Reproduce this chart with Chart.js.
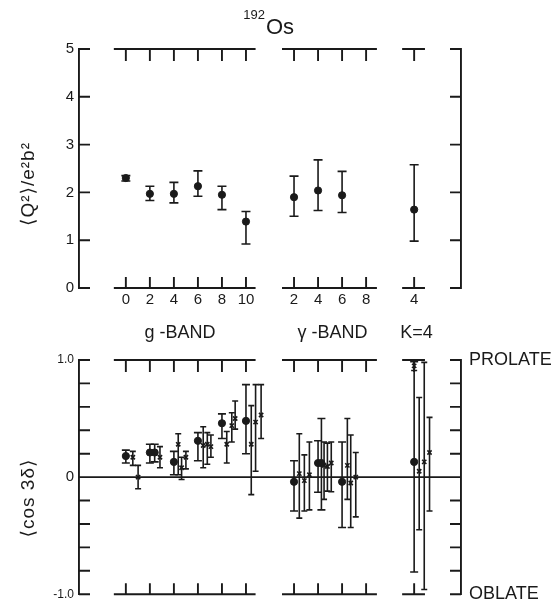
<!DOCTYPE html>
<html>
<head>
<meta charset="utf-8">
<script src="https://cdn.jsdelivr.net/npm/chart.js@4.4.1/dist/chart.umd.min.js"></script>
<style>
  html, body { margin: 0; padding: 0; background: #fff; }
  #wrap { position: relative; width: 557px; height: 613px; }
  #topChart { position: absolute; left: 0; top: 0; }
  #botChart { position: absolute; left: 0; top: 320px; }
</style>
</head>
<body>
<div id="wrap">
  <canvas id="topChart" width="557" height="320"></canvas>
  <canvas id="botChart" width="557" height="293"></canvas>
</div>
<script>
// slots on the x axis: g-band spins 0..10 -> 0..5, gamma-band 2..8 -> 7..10, K=4 band -> 12
const tickSlots = [0, 1, 2, 3, 4, 5, 7, 8, 9, 10, 12];
const tickLabels = ['0', '2', '4', '6', '8', '10', '2', '4', '6', '8', '4'];
const bandLabels = ['g -BAND', 'γ -BAND', 'K=4'];
const bandLabelSlots = [2.25, 8.6, 12.1];

// <Q^2> / e^2 b^2
const q2Slots = [0, 1, 2, 3, 4, 5, 7, 8, 9, 12];
const q2Values = [2.30, 1.97, 1.97, 2.13, 1.95, 1.39, 1.90, 2.04, 1.94, 1.64];
const q2Upper = [2.35, 2.13, 2.21, 2.45, 2.13, 1.60, 2.34, 2.68, 2.44, 2.58];
const q2Lower = [2.24, 1.83, 1.78, 1.92, 1.64, 0.92, 1.50, 1.62, 1.58, 0.98];

// <cos 3delta>, filled dots
const cosDotSlots = [0, 1, 1.2, 2, 3, 4, 5, 7, 8, 8.14, 9, 12];
const cosDotValues = [0.18, 0.21, 0.21, 0.13, 0.31, 0.46, 0.48, -0.04, 0.12, 0.12, -0.04, 0.13];
const cosDotUpper = [0.23, 0.28, 0.28, 0.22, 0.38, 0.54, 0.79, 0.14, 0.31, 0.50, 0.30, 0.985];
const cosDotLower = [0.12, 0.12, 0.13, 0.02, 0.14, 0.33, 0.20, -0.29, -0.13, -0.28, -0.43, -0.81];

// <cos 3delta>, small crosses
const cosCrossSlots = [0.29, 0.51, 1.42, 2.18, 2.32, 2.5, 3.22, 3.39, 3.54, 4.2, 4.41, 4.55,
  5.22, 5.4, 5.63, 7.22, 7.43, 7.64, 8.25, 8.39, 8.55, 9.22, 9.36, 9.57, 12.0, 12.21, 12.42, 12.64];
const cosCrossValues = [0.17, 0.0, 0.17, 0.28, 0.08, 0.17, 0.27, 0.28, 0.26, 0.28, 0.44, 0.50,
  0.28, 0.47, 0.53, 0.03, -0.03, 0.02, 0.10, 0.09, 0.12, 0.10, -0.05, 0.0, 0.95, 0.05, 0.13, 0.21];
const cosCrossUpper = [0.22, 0.10, 0.26, 0.37, 0.17, 0.22, 0.43, 0.38, 0.36, 0.39, 0.55, 0.65,
  0.61, 0.79, 0.79, 0.37, 0.19, 0.30, 0.30, 0.29, 0.30, 0.50, 0.36, 0.21, 0.99, 0.68, 0.98, 0.51];
const cosCrossLower = [0.10, -0.10, 0.08, 0.02, -0.02, 0.07, 0.08, 0.11, 0.17, 0.12, 0.30, 0.41,
  -0.15, 0.05, 0.33, -0.35, -0.29, -0.28, -0.19, -0.12, -0.125, -0.19, -0.43, -0.34, 0.91, -0.45, -0.96, -0.29];

const cosLabelValues = [-1, 0, 1];
const cosLabelText = ['-1.0', '0', '1.0'];
const sideValues = [-1, 1];
const sideText = ['OBLATE', 'PROLATE'];

const ink = '#1a1a1a';
const FONT = "'Liberation Sans', 'DejaVu Sans', Arial, sans-serif";
Chart.defaults.font.family = FONT;
Chart.defaults.color = ink;

const segments = [[-0.5, 5.4], [6.5, 10.45], [11.5, 12.45]];

function toPoints(xs, ys) {
  return xs.map((x, i) => ({ x: x, y: ys[i] }));
}

const errorBars = {
  id: 'errorBars',
  beforeDatasetsDraw(chart) {
    const { ctx, scales: { x, y } } = chart;
    ctx.save();
    ctx.strokeStyle = ink;
    ctx.lineWidth = 1.6;
    chart.data.datasets.forEach(ds => {
      if (!ds.upper) return;
      ds.data.forEach((p, i) => {
        const px = x.getPixelForValue(p.x);
        const top = y.getPixelForValue(ds.upper[i]);
        const bot = y.getPixelForValue(ds.lower[i]);
        const w = ds.capHalf;
        ctx.beginPath();
        ctx.moveTo(px, top); ctx.lineTo(px, bot);
        ctx.moveTo(px - w, top); ctx.lineTo(px + w, top);
        ctx.moveTo(px - w, bot); ctx.lineTo(px + w, bot);
        ctx.stroke();
      });
    });
    ctx.restore();
  }
};

// broken top/bottom frame, inward ticks, zero line
const frame = {
  id: 'frame',
  beforeDatasetsDraw(chart, args, opts) {
    const { ctx, chartArea: a, scales: { x, y } } = chart;
    ctx.save();
    ctx.strokeStyle = ink;
    ctx.lineWidth = 1.9;
    ctx.beginPath();
    segments.forEach(s => {
      const x0 = x.getPixelForValue(s[0]), x1 = x.getPixelForValue(s[1]);
      ctx.moveTo(x0, a.top); ctx.lineTo(x1, a.top);
      ctx.moveTo(x0, a.bottom); ctx.lineTo(x1, a.bottom);
    });
    tickSlots.forEach(v => {
      const px = x.getPixelForValue(v);
      ctx.moveTo(px, a.top); ctx.lineTo(px, a.top + 12);
      ctx.moveTo(px, a.bottom); ctx.lineTo(px, a.bottom - 11);
    });
    y.ticks.forEach(t => {
      const py = y.getPixelForValue(t.value);
      ctx.moveTo(a.left, py); ctx.lineTo(a.left + 11, py);
      ctx.moveTo(a.right, py); ctx.lineTo(a.right - 11, py);
    });
    if (opts.zeroLine) {
      const py = y.getPixelForValue(0);
      ctx.moveTo(a.left, py); ctx.lineTo(a.right, py);
    }
    ctx.stroke();
    ctx.restore();
  }
};

const texts = {
  id: 'texts',
  afterDraw(chart, args, opts) {
    const { ctx, scales: { x } } = chart;
    ctx.save();
    ctx.fillStyle = ink;
    if (opts.title) {
      ctx.textBaseline = 'alphabetic';
      ctx.font = '13px ' + FONT;
      ctx.textAlign = 'right';
      ctx.fillText('192', 265, 19);
      ctx.font = '22px ' + FONT;
      ctx.textAlign = 'left';
      ctx.fillText('Os', 266, 34);
    }
    if (opts.bands) {
      ctx.font = '18px ' + FONT;
      ctx.textAlign = 'center';
      ctx.textBaseline = 'middle';
      bandLabels.forEach((b, i) => ctx.fillText(b, x.getPixelForValue(bandLabelSlots[i]), 13));
    }
    if (opts.yTitle) {
      ctx.translate(opts.yTitle.x, opts.yTitle.y);
      ctx.rotate(-Math.PI / 2);
      ctx.font = '19px ' + FONT;
      ctx.letterSpacing = '1px';
      ctx.textAlign = 'center';
      ctx.textBaseline = 'middle';
      ctx.fillText(opts.yTitle.text, 0, 0);
    }
    ctx.restore();
  }
};

const noGrid = { display: false, drawTicks: false };
const axisBorder = { display: true, color: ink, width: 1.9 };

new Chart(document.getElementById('topChart').getContext('2d'), {
  type: 'scatter',
  data: {
    datasets: [{
      data: toPoints(q2Slots, q2Values),
      upper: q2Upper, lower: q2Lower, capHalf: 4.5,
      pointStyle: 'circle', pointRadius: 3.6,
      backgroundColor: ink, borderColor: ink
    }]
  },
  options: {
    responsive: false,
    animation: false,
    events: [],
    layout: { padding: { top: 49, left: 0, right: 0, bottom: 0 } },
    plugins: {
      legend: { display: false },
      tooltip: { enabled: false },
      frame: { zeroLine: false },
      texts: { title: true, yTitle: { text: '⟨Q²⟩/e²b²', x: 29, y: 184 } }
    },
    scales: {
      x: {
        type: 'linear', min: -1.95, max: 13.95,
        afterBuildTicks: s => { s.ticks = tickSlots.map(v => ({ value: v })); },
        ticks: { callback: (v, i) => tickLabels[i], font: { size: 15 }, color: ink, padding: 3, autoSkip: false, maxRotation: 0 },
        grid: noGrid, border: { display: false },
        afterFit: s => { s.height = 32; }
      },
      y: {
        min: 0, max: 5,
        ticks: { stepSize: 1, padding: 5, font: { size: 15 }, color: ink },
        grid: noGrid, border: axisBorder,
        afterFit: s => { s.width = 79; }
      },
      yR: {
        position: 'right', min: 0, max: 5,
        ticks: { display: false },
        grid: noGrid, border: axisBorder,
        afterFit: s => { s.width = 96; }
      }
    }
  },
  plugins: [frame, errorBars, texts]
});

new Chart(document.getElementById('botChart').getContext('2d'), {
  type: 'scatter',
  data: {
    datasets: [{
      data: toPoints(cosDotSlots, cosDotValues),
      upper: cosDotUpper, lower: cosDotLower, capHalf: 4,
      pointStyle: 'circle', pointRadius: 3.6,
      backgroundColor: ink, borderColor: ink
    }, {
      data: toPoints(cosCrossSlots, cosCrossValues),
      upper: cosCrossUpper, lower: cosCrossLower, capHalf: 3,
      pointStyle: 'crossRot', pointRadius: 3, borderWidth: 1.6,
      backgroundColor: ink, borderColor: ink
    }]
  },
  options: {
    responsive: false,
    animation: false,
    events: [],
    layout: { padding: { top: 40, left: 0, right: 0, bottom: 11 } },
    plugins: {
      legend: { display: false },
      tooltip: { enabled: false },
      frame: { zeroLine: true },
      texts: { bands: true, yTitle: { text: '⟨cos 3δ⟩', x: 29, y: 178 } }
    },
    scales: {
      x: { type: 'linear', min: -1.95, max: 13.95, display: false },
      y: {
        min: -1, max: 1,
        ticks: {
          stepSize: 0.2, padding: 5, color: ink,
          font: c => ({ size: c.tick && Math.abs(c.tick.value) < 1e-6 ? 15 : 12 }),
          callback: v => {
            const k = cosLabelValues.findIndex(l => Math.abs(l - v) < 1e-6);
            return k < 0 ? '' : cosLabelText[k];
          }
        },
        grid: noGrid, border: axisBorder,
        afterFit: s => { s.width = 79; }
      },
      yR: {
        position: 'right', min: -1, max: 1,
        afterBuildTicks: s => { s.ticks = sideValues.map(v => ({ value: v })); },
        ticks: { callback: (v, i) => sideText[i], font: { size: 18 }, color: ink, padding: 8 },
        grid: noGrid, border: axisBorder,
        afterFit: s => { s.width = 96; }
      }
    }
  },
  plugins: [frame, errorBars, texts]
});
</script>
</body>
</html>
